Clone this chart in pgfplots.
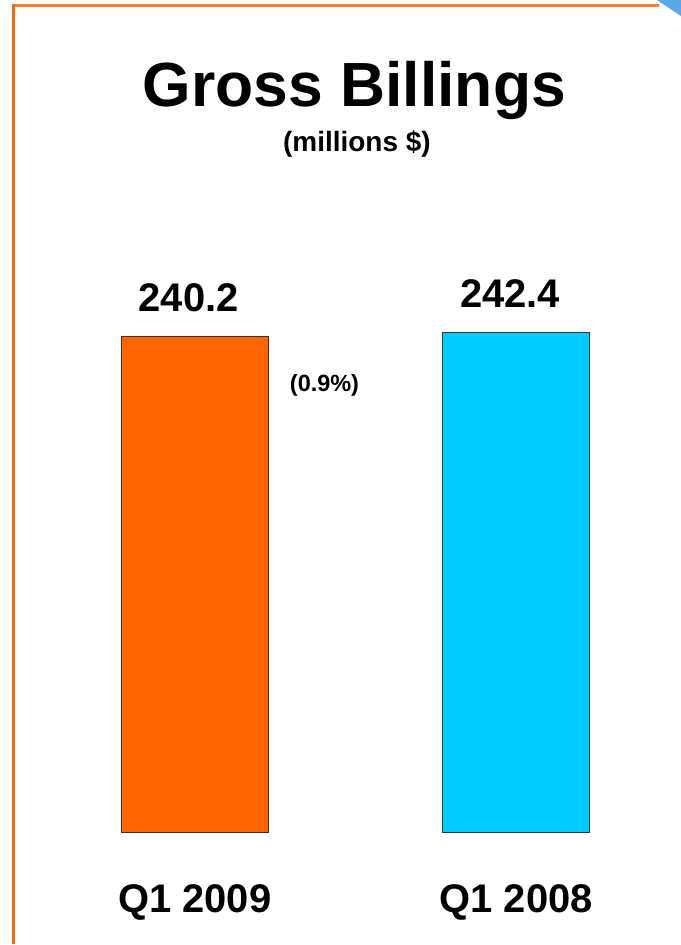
\documentclass[border=0pt]{standalone}
\usepackage{pgfplots}
\pgfplotsset{compat=1.18}
\usepackage{fontspec}
\setmainfont{Liberation Sans}
\definecolor{barorange}{HTML}{FF6600}
\definecolor{barblue}{HTML}{00CCFF}
\definecolor{frameorange}{HTML}{FF7F2A}
\definecolor{cornerblue}{HTML}{5AA8E6}
\newcommand\fs[1]{\fontsize{#1}{#1}\selectfont\bfseries}
\begin{document}
\begin{tikzpicture}
\path[fill=white] (0pt,0pt) rectangle (682pt,945pt);
\begin{axis}[
  at={(34pt,111pt)}, anchor=south west,
  scale only axis, width=644pt, height=620.4pt,
  xmin=-0.5, xmax=1.5, ymin=0, ymax=300,
  axis line style={draw=none},
  ytick=\empty,
  xtick={0,1}, xticklabels={Q1 2009, Q1 2008},
  xtick style={draw=none},
  xticklabel style={anchor=base, inner sep=0pt, yshift=-76pt, font=\fs{40}},
  ybar, bar width=147pt,
  clip=false,
  point meta=explicit symbolic,
  nodes near coords,
  every node near coord/.style={anchor=base, inner sep=0pt, yshift=25pt, xshift=-6pt, font=\fs{40}, text=black},
]
\addplot[bar shift=0pt, fill=barorange, draw=black!80, line width=1pt] coordinates {(0,240.2) [240.2]};
\addplot[bar shift=0pt, fill=barblue, draw=black!80, line width=1pt] coordinates {(1,242.4) [242.4]};
\end{axis}
% corner decoration and frame
\fill[cornerblue] (658pt,945pt) -- (682pt,945pt) -- (682pt,929pt) -- cycle;
\draw[frameorange, line width=3pt] (14pt,939pt) -- (660pt,939pt);
\draw[barorange, line width=3pt] (14pt,940.5pt) -- (14pt,0pt);
% titles
\node[anchor=base, inner sep=0] at (355pt,838pt) {\fs{62.5}Gross Billings};
\node[anchor=base, inner sep=0] at (357.5pt,793pt) {\fs{28}(millions \$)};
\node[anchor=base, inner sep=0] at (325pt,553pt) {\fs{23.5}(0.9\%)};
\end{tikzpicture}
\end{document}
